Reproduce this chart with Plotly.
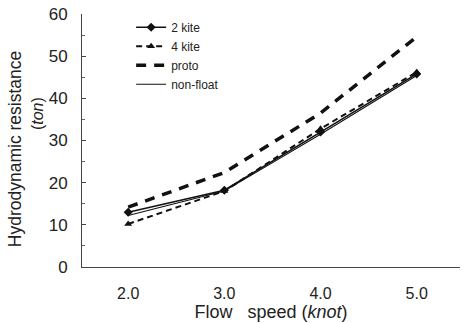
import plotly.graph_objects as go

speed = [2.0, 3.0, 4.0, 5.0]
kite2 = [13.0, 18.2, 32.0, 45.8]
kite4 = [10.2, 18.0, 32.8, 46.2]
proto = [14.2, 22.4, 36.5, 54.6]
nonfloat = [12.2, 18.0, 31.5, 45.4]
tick_vals = [2.0, 3.0, 4.0, 5.0]
tick_text = ["2.0", "3.0", "4.0", "5.0"]

fig = go.Figure()
fig.add_trace(go.Scatter(x=speed, y=kite2, name="2 kite", mode="lines+markers",
                         line=dict(color="#111", width=1.6),
                         marker=dict(symbol="diamond", size=7, color="#111")))
fig.add_trace(go.Scatter(x=speed, y=kite4, name="4 kite", mode="lines+markers",
                         line=dict(color="#111", width=2, dash="6px,4px"),
                         marker=dict(symbol="triangle-up", size=7, color="#111")))
fig.add_trace(go.Scatter(x=speed, y=proto, name="proto", mode="lines",
                         line=dict(color="#111", width=3.5, dash="10px,8px")))
fig.add_trace(go.Scatter(x=speed, y=nonfloat, name="non-float", mode="lines",
                         line=dict(color="#111", width=1.1)))

fig.update_layout(
    width=463, height=323,
    margin=dict(l=82, r=3, t=14, b=56),
    paper_bgcolor="white", plot_bgcolor="white",
    font=dict(family="Liberation Sans, Arial, sans-serif", color="#222", size=15),
    showlegend=True,
    legend=dict(x=0.13, y=1.005, xanchor="left", yanchor="top",
                bgcolor="rgba(0,0,0,0)", font=dict(size=12),
                tracegroupgap=0, itemwidth=30),
    xaxis=dict(range=[1.52, 5.45], tickvals=tick_vals, ticktext=tick_text,
               showgrid=False, zeroline=False, showline=True, linecolor="#444",
               linewidth=1, ticks="outside", ticklen=12, tickcolor="rgba(0,0,0,0)",
               tickfont=dict(size=16),
               title=dict(text="Flow   speed (<i>knot</i>)", font=dict(size=18), standoff=0)),
    yaxis=dict(range=[0, 60], dtick=10, showgrid=False, zeroline=False,
               showline=True, linecolor="#444", linewidth=1,
               ticks="inside", ticklen=4, tickcolor="#444",
               minor=dict(ticks="inside", ticklen=3, dtick=5, tickcolor="#666"),
               tickfont=dict(size=17), ticklabelstandoff=10),
    annotations=[
        dict(text="Hydrodynamic resistance", xref="paper", yref="paper",
             x=-0.177, y=0.466, xanchor="center", yanchor="middle",
             textangle=-90, showarrow=False, font=dict(size=17.5)),
        dict(text="(<i>ton</i>)", xref="paper", yref="paper",
             x=-0.116, y=0.605, xanchor="center", yanchor="middle",
             textangle=-90, showarrow=False, font=dict(size=16)),
    ],
)

fig.write_html("out.html")
